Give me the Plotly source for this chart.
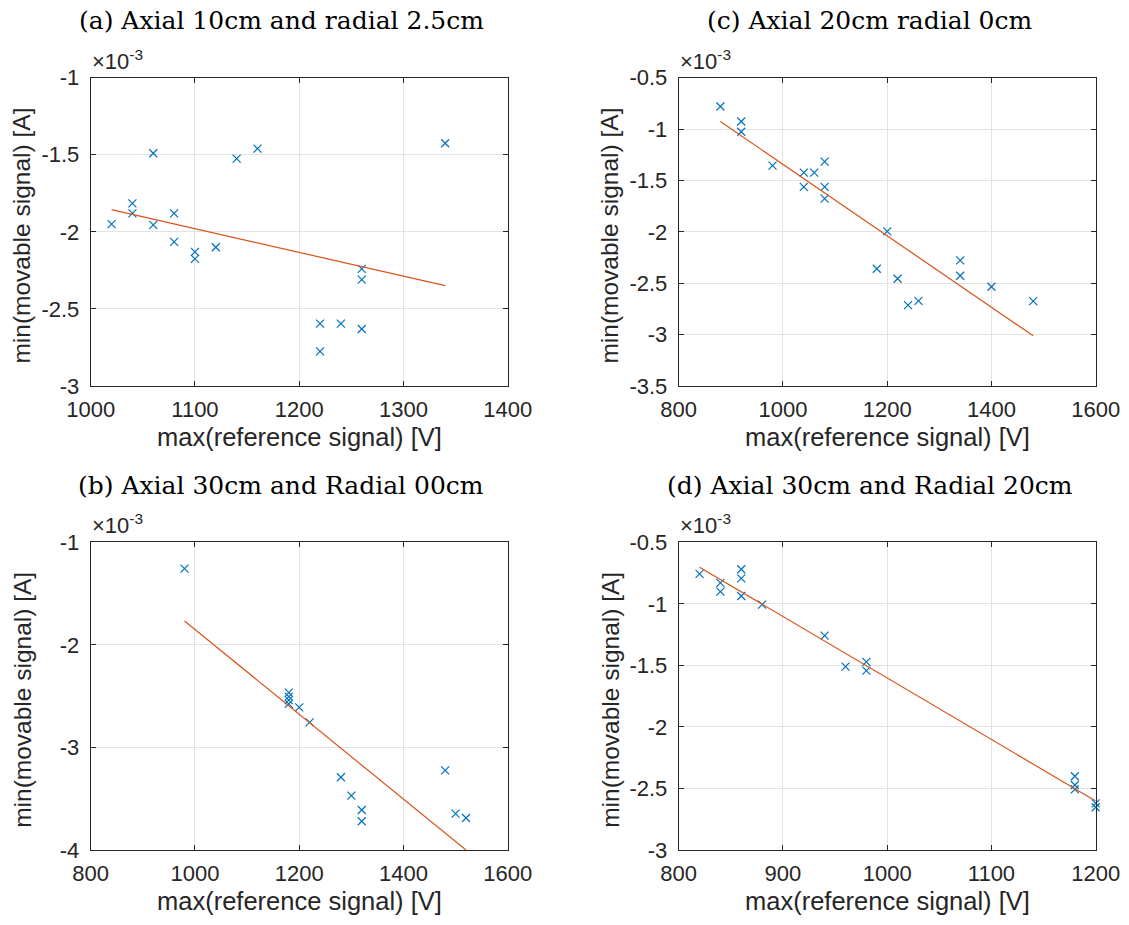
import plotly.graph_objects as go

# ---------------- data (y in units of 1e-3 A) ----------------
a_x = [1020, 1040, 1040, 1060, 1060, 1080, 1080, 1100, 1100, 1120, 1140, 1160,
       1220, 1220, 1240, 1260, 1260, 1260, 1340]
a_y = [-1.95, -1.815, -1.88, -1.49, -1.955, -1.88, -2.065, -2.13, -2.175, -2.10, -1.525, -1.46,
       -2.595, -2.775, -2.595, -2.24, -2.31, -2.63, -1.425]
a_fit_x = [1020, 1340]
a_fit_y = [-1.856, -2.349]

c_x = [880, 920, 920, 980, 1040, 1040, 1060, 1080, 1080, 1080, 1200, 1180,
       1220, 1240, 1260, 1340, 1340, 1400, 1480]
c_y = [-0.78, -0.926, -1.026, -1.355, -1.423, -1.563, -1.423, -1.316, -1.563, -1.676, -1.995, -2.359,
       -2.456, -2.713, -2.671, -2.278, -2.427, -2.534, -2.674]
c_fit_x = [880, 1480]
c_fit_y = [-0.926, -3.012]

b_x = [980, 1180, 1180, 1180, 1180, 1200, 1220, 1280, 1300, 1320, 1320, 1480, 1500, 1520]
b_y = [-1.257, -2.466, -2.505, -2.538, -2.576, -2.609, -2.755, -3.291, -3.47, -3.61, -3.72,
       -3.223, -3.645, -3.688]
b_fit_x = [980, 1520]
b_fit_y = [-1.767, -4.0]

d_x = [820, 840, 840, 860, 860, 860, 880, 940, 960, 980, 980, 1180, 1180, 1180, 1200, 1200]
d_y = [-0.757, -0.83, -0.901, -0.719, -0.793, -0.936, -1.006, -1.258, -1.51, -1.472, -1.543,
       -2.401, -2.472, -2.507, -2.621, -2.653]
d_fit_x = [820, 1200]
d_fit_y = [-0.703, -2.602]

titles = ["(a) Axial 10cm and radial 2.5cm", "(c) Axial 20cm radial 0cm",
          "(b) Axial 30cm and Radial 00cm", "(d) Axial 30cm and Radial 20cm"]
x_label = "max(reference signal) [V]"
y_label = "min(movable signal) [A]"

a_xticks = [1000, 1100, 1200, 1300, 1400]
a_yticks = [-3, -2.5, -2, -1.5, -1]
a_yticktext = ["-3", "-2.5", "-2", "-1.5", "-1"]
c_xticks = [800, 1000, 1200, 1400, 1600]
c_yticks = [-3.5, -3, -2.5, -2, -1.5, -1, -0.5]
c_yticktext = ["-3.5", "-3", "-2.5", "-2", "-1.5", "-1", "-0.5"]
b_xticks = [800, 1000, 1200, 1400, 1600]
b_yticks = [-4, -3, -2, -1]
b_yticktext = ["-4", "-3", "-2", "-1"]
d_xticks = [800, 900, 1000, 1100, 1200]
d_yticks = [-3, -2.5, -2, -1.5, -1, -0.5]
d_yticktext = ["-3", "-2.5", "-2", "-1.5", "-1", "-0.5"]

# ---------------- layout geometry ----------------
W, H = 1129, 925
BLUE = "#0072BD"
ORANGE = "#D95319"
AX = "#262626"
GRID = "#E3E3E3"

cols = [(90.7, 507.7), (678.7, 1095.7)]
rows = [(77.7, 386.0), (542.3, 850.0)]
title_cx = [281, 870]

panels = [
    dict(x=a_x, y=a_y, fx=a_fit_x, fy=a_fit_y, xr=[1000, 1400], yr=[-3, -1],
         xt=a_xticks, yt=a_yticks, ytt=a_yticktext, col=0, row=0, title=titles[0]),
    dict(x=c_x, y=c_y, fx=c_fit_x, fy=c_fit_y, xr=[800, 1600], yr=[-3.5, -0.5],
         xt=c_xticks, yt=c_yticks, ytt=c_yticktext, col=1, row=0, title=titles[1]),
    dict(x=b_x, y=b_y, fx=b_fit_x, fy=b_fit_y, xr=[800, 1600], yr=[-4, -1],
         xt=b_xticks, yt=b_yticks, ytt=b_yticktext, col=0, row=1, title=titles[2]),
    dict(x=d_x, y=d_y, fx=d_fit_x, fy=d_fit_y, xr=[800, 1200], yr=[-3, -0.5],
         xt=d_xticks, yt=d_yticks, ytt=d_yticktext, col=1, row=1, title=titles[3]),
]

fig = go.Figure()
annotations = []
layout = {}
for i, p in enumerate(panels, start=1):
    xa = "x" if i == 1 else f"x{i}"
    ya = "y" if i == 1 else f"y{i}"
    x0, x1 = cols[p["col"]]
    y0, y1 = rows[p["row"]]
    xdom = [x0 / W, x1 / W]
    ydom = [1 - y1 / H, 1 - y0 / H]
    fig.add_trace(go.Scatter(x=p["x"], y=p["y"], mode="markers", xaxis=xa, yaxis=ya,
                             marker=dict(symbol="x-thin-open", size=8, color=BLUE,
                                         line=dict(color=BLUE, width=1.2)),
                             cliponaxis=False, showlegend=False))
    fig.add_trace(go.Scatter(x=p["fx"], y=p["fy"], mode="lines", xaxis=xa, yaxis=ya,
                             line=dict(color=ORANGE, width=1.2), showlegend=False))
    common = dict(showline=True, linecolor=AX, linewidth=1, mirror="ticks",
                  ticks="inside", ticklen=5, tickcolor=AX, tickwidth=1,
                  showgrid=True, gridcolor=GRID, gridwidth=1, zeroline=False,
                  tickfont=dict(family="Liberation Sans, Arial", size=22, color=AX),
                  automargin=False, fixedrange=True)
    layout["xaxis" if i == 1 else f"xaxis{i}"] = dict(
        common, domain=xdom, range=p["xr"], tickmode="array", tickvals=p["xt"],
        ticktext=[str(v) for v in p["xt"]], anchor=ya, ticklabelstandoff=4)
    layout["yaxis" if i == 1 else f"yaxis{i}"] = dict(
        common, domain=ydom, range=p["yr"], tickmode="array", tickvals=p["yt"],
        ticktext=p["ytt"], anchor=xa, ticklabelstandoff=6)
    cx = (x0 + x1) / 2
    cy = (y0 + y1) / 2
    # panel title
    annotations.append(dict(text=p["title"], x=title_cx[p["col"]] / W, y=1 - (y0 - 57) / H,
                            xref="paper", yref="paper",
                            xanchor="center", yanchor="middle", showarrow=False,
                            font=dict(family="DejaVu Serif", size=25, color="black")))
    # x-axis label
    annotations.append(dict(text=x_label, x=cx / W, y=1 - (y1 + 51) / H, xref="paper", yref="paper",
                            xanchor="center", yanchor="middle", showarrow=False,
                            font=dict(family="Liberation Sans, Arial", size=25.5, color=AX)))
    # y-axis label
    annotations.append(dict(text=y_label, x=(x0 - 69) / W, y=1 - (cy + 4) / H, xref="paper", yref="paper",
                            xanchor="center", yanchor="middle", showarrow=False, textangle=-90,
                            font=dict(family="Liberation Sans, Arial", size=24.5, color=AX)))
    # exponent
    annotations.append(dict(text="×10<sup>-3</sup>", x=(x0 - 1) / W, y=1 - (y0 - 2) / H,
                            xref="paper", yref="paper", xanchor="left", yanchor="bottom",
                            showarrow=False,
                            font=dict(family="Liberation Sans, Arial", size=22, color=AX)))

fig.update_layout(**layout)
fig.update_layout(width=W, height=H, margin=dict(l=0, r=0, t=0, b=0),
                  paper_bgcolor="white", plot_bgcolor="white",
                  annotations=annotations, showlegend=False)

fig.write_html("out.html")
